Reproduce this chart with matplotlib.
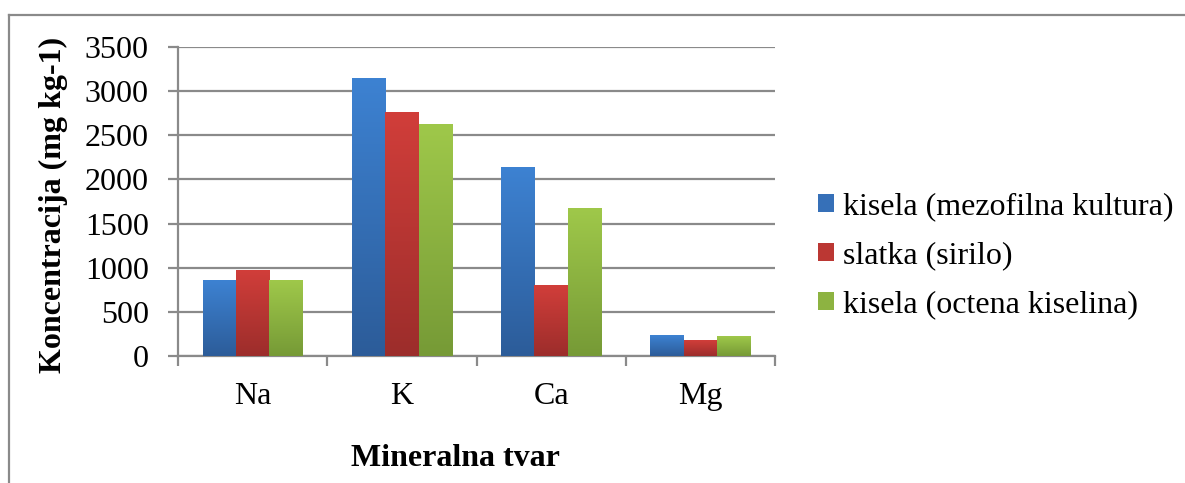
import matplotlib
matplotlib.use("Agg")
import matplotlib.pyplot as plt
from matplotlib.colors import LinearSegmentedColormap
from matplotlib.lines import Line2D
from matplotlib.patches import Patch
import numpy as np

plt.rcParams['font.family'] = ['Liberation Serif', 'DejaVu Serif']

categories = ["Na", "K", "Ca", "Mg"]
series_names = ["kisela (mezofilna kultura)", "slatka (sirilo)", "kisela (octena kiselina)"]
mezofilna = [860, 3140, 2130, 235]
sirilo = [965, 2760, 800, 180]
octena = [860, 2625, 1675, 225]
y_ticks = [0, 500, 1000, 1500, 2000, 2500, 3000, 3500]

# (top colour, bottom colour) for the Excel-style gradient
colors = [("#3d82d2", "#2c5c99"), ("#d13e3a", "#9c2d2b"), ("#9fc84a", "#769a36")]
mid_colors = ["#3670b8", "#bb3733", "#8db341"]

fig = plt.figure(figsize=(11.85, 4.83), dpi=100)
ax = fig.add_axes([178 / 1185, 1 - 356 / 483, 597 / 1185, 309 / 483])

x = np.arange(len(categories))
w = 0.223
gradient = np.linspace(0, 1, 256).reshape(-1, 1)
for i, vals in enumerate([mezofilna, sirilo, octena]):
    offs = (i - 1) * w
    bars = ax.bar(x + offs, vals, w, color=mid_colors[i], zorder=3)
    cmap = LinearSegmentedColormap.from_list("g%d" % i, [colors[i][1], colors[i][0]])
    for b in bars:
        ax.imshow(gradient, cmap=cmap, origin="lower", aspect="auto", zorder=4,
                  extent=[b.get_x(), b.get_x() + b.get_width(), 0, b.get_height()])

ax.set_xlim(-0.5, len(categories) - 0.5)
ax.set_ylim(0, 3500)
ax.set_yticks(y_ticks)
ax.set_xticks(x)
ax.set_xticklabels(categories)
ax.set_xticks(np.arange(-0.5, len(categories)), minor=True)

gray = "#8a8a8a"
ax.yaxis.grid(True, color=gray, linewidth=1.6, zorder=0)
ax.set_axisbelow(True)
for s in ["top", "right"]:
    ax.spines[s].set_visible(False)
for s in ["left", "bottom"]:
    ax.spines[s].set_color(gray)
    ax.spines[s].set_linewidth(1.6)

ax.tick_params(axis="y", direction="out", length=7, width=1.6, color=gray,
               labelsize=23, pad=14)
ax.tick_params(axis="x", which="major", length=0, labelsize=23, pad=19)
ax.tick_params(axis="x", which="minor", direction="out", length=7, width=1.6, color=gray)

ax.set_ylabel("Koncentracija (mg kg-1)", fontsize=23, fontweight="bold")
ax.yaxis.set_label_coords(-0.185, 0.49)
fig.text(455 / 1185, 1 - 458 / 483, "Mineralna tvar", fontsize=23, fontweight="bold",
         ha="center", va="center")

handles = [Patch(facecolor=c) for c in mid_colors]
fig.legend(handles, series_names, loc="center left", bbox_to_anchor=(789 / 1185, 1 - 256 / 483),
           frameon=False, fontsize=23, handlelength=0.5, handleheight=0.5,
           handletextpad=0.3, labelspacing=0.62)

# outer chart border
fig.add_artist(Line2D([9 / 1185, 1], [1 - 15 / 483, 1 - 15 / 483], color=gray, linewidth=1.6))
fig.add_artist(Line2D([9 / 1185, 9 / 1185], [0, 1 - 15 / 483], color=gray, linewidth=1.6))

fig.savefig("out.png", dpi=100)
